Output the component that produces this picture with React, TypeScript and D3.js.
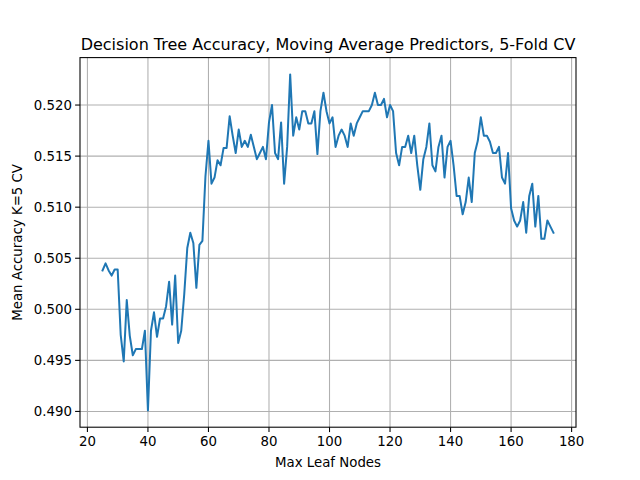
import React from "react";
import * as d3 from "d3";

const startLeaf = 25;
const accuracy = [
  0.5038, 0.5045, 0.5038, 0.5033, 0.5039, 0.5039, 0.4975, 0.4949, 0.5009, 0.4974,
  0.4955, 0.4961, 0.4961, 0.4961, 0.4979, 0.4901, 0.4979, 0.4997, 0.4973, 0.4991,
  0.4991, 0.5003, 0.5027, 0.4985, 0.5033, 0.4967, 0.4979, 0.5015, 0.5060, 0.5075,
  0.5065, 0.5021, 0.5063, 0.5067, 0.5130, 0.5165, 0.5123, 0.5129, 0.5146, 0.5141,
  0.5158, 0.5158, 0.5189, 0.5170, 0.5153, 0.5176, 0.5159, 0.5165, 0.5159, 0.5171,
  0.5159, 0.5147, 0.5153, 0.5159, 0.5147, 0.5183, 0.5200, 0.5153, 0.5147, 0.5183,
  0.5123, 0.5159, 0.5230, 0.5170, 0.5188, 0.5176, 0.5194, 0.5194, 0.5182, 0.5182,
  0.5194, 0.5152, 0.5194, 0.5212, 0.5194, 0.5182, 0.5188, 0.5159, 0.5170, 0.5176,
  0.5170, 0.5159, 0.5182, 0.5170, 0.5182, 0.5188, 0.5194, 0.5194, 0.5194, 0.5200,
  0.5212, 0.5200, 0.5200, 0.5206, 0.5188, 0.5200, 0.5194, 0.5153, 0.5141, 0.5159,
  0.5159, 0.5170, 0.5153, 0.5170, 0.5141, 0.5117, 0.5147, 0.5159, 0.5182, 0.5141,
  0.5135, 0.5159, 0.5170, 0.5129, 0.5159, 0.5165, 0.5141, 0.5111, 0.5111, 0.5093,
  0.5105, 0.5129, 0.5105, 0.5153, 0.5165, 0.5188, 0.5170, 0.5170, 0.5164, 0.5153,
  0.5153, 0.5159, 0.5129, 0.5123, 0.5153, 0.5099, 0.5087, 0.5081, 0.5087, 0.5105,
  0.5075, 0.5111, 0.5123, 0.5081, 0.5111, 0.5069, 0.5069, 0.5087, 0.5081, 0.5075,
];
const xTicks = [20, 40, 60, 80, 100, 120, 140, 160, 180];
const yTicks = [0.49, 0.495, 0.5, 0.505, 0.51, 0.515, 0.52];

const W = 640, H = 480;
const L = 80, R = 576, T = 57.6, B = 427.2;

export default function App() {
  const pts = accuracy.map((v, i) => [startLeaf + i, v] as [number, number]);
  const xmin = startLeaf, xmax = startLeaf + accuracy.length - 1;
  const xpad = (xmax - xmin) * 0.05;
  const ymin = d3.min(accuracy)!, ymax = d3.max(accuracy)!;
  const ypad = (ymax - ymin) * 0.05;
  const x = d3.scaleLinear().domain([xmin - xpad, xmax + xpad]).range([L, R]);
  const y = d3.scaleLinear().domain([ymin - ypad, ymax + ypad]).range([B, T]);
  const line = d3.line<[number, number]>().x(d => x(d[0])).y(d => y(d[1]));
  const font = "DejaVu Sans, sans-serif";
  return (
    <svg width={W} height={H} style={{ position: "absolute", left: 0, top: 0, background: "#fff" }} fontFamily={font}>
      <rect width={W} height={H} fill="#fff" />
      {xTicks.map(t => (
        <g key={"x" + t}>
          <line x1={x(t)} x2={x(t)} y1={T} y2={B} stroke="#b0b0b0" strokeWidth={1.07} />
          <line x1={x(t)} x2={x(t)} y1={B} y2={B + 4.9} stroke="#000" strokeWidth={1.07} />
          <text x={x(t)} y={B + 19} fontSize={13.33} textAnchor="middle">{t}</text>
        </g>
      ))}
      {yTicks.map(t => (
        <g key={"y" + t}>
          <line x1={L} x2={R} y1={y(t)} y2={y(t)} stroke="#b0b0b0" strokeWidth={1.07} />
          <line x1={L - 4.9} x2={L} y1={y(t)} y2={y(t)} stroke="#000" strokeWidth={1.07} />
          <text x={L - 8} y={y(t)} dy="0.35em" fontSize={13.33} textAnchor="end">{t.toFixed(3)}</text>
        </g>
      ))}
      <path d={line(pts)!} fill="none" stroke="#1f77b4" strokeWidth={2} strokeLinejoin="round" strokeLinecap="square" />
      <rect x={L} y={T} width={R - L} height={B - T} fill="none" stroke="#000" strokeWidth={1.07} />
      <text x={(L + R) / 2} y={T - 8} fontSize={16} textAnchor="middle">Decision Tree Accuracy, Moving Average Predictors, 5-Fold CV</text>
      <text x={(L + R) / 2} y={467} fontSize={13.33} textAnchor="middle">Max Leaf Nodes</text>
      <text transform={`translate(22,${(T + B) / 2}) rotate(-90)`} fontSize={13.33} textAnchor="middle">Mean Accuracy K=5 CV</text>
    </svg>
  );
}
